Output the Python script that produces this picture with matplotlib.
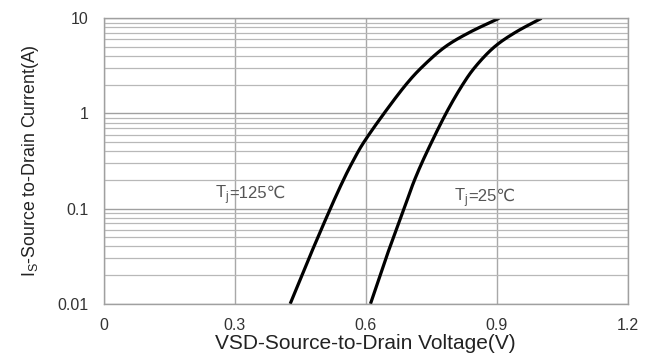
import numpy as np
import matplotlib
matplotlib.use("Agg")
import matplotlib.pyplot as plt
from matplotlib.ticker import LogLocator, FixedLocator, NullFormatter
from matplotlib.offsetbox import TextArea, HPacker, AnnotationBbox

plt.rcParams['font.family'] = ['Liberation Sans', 'DejaVu Sans']
plt.rcParams['mathtext.fontset'] = 'custom'
plt.rcParams['mathtext.rm'] = 'Liberation Sans'

# Data
i_125C = [0.01, 0.0316, 0.1, 0.2, 0.316, 0.5, 1.0, 2.0, 3.16, 5.0, 7.1, 10.0]
vsd_125C = [0.427, 0.472, 0.519, 0.549, 0.571, 0.596, 0.642, 0.692, 0.732, 0.782, 0.838, 0.906]
i_25C = [0.01, 0.0316, 0.1, 0.2, 0.4, 1.0, 2.0, 3.16, 5.0, 7.1, 10.0]
vsd_25C = [0.611, 0.648, 0.688, 0.712, 0.741, 0.784, 0.822, 0.853, 0.895, 0.943, 1.003]

x_ticks = [0, 0.3, 0.6, 0.9, 1.2]
x_tick_labels = ['0', '0.3', '0.6', '0.9', '1.2']
y_ticks = [0.01, 0.1, 1, 10]
y_tick_labels = ['0.01', '0.1', '1', '10']
labels = [('125', 0.335, 0.14), ('25', 0.872, 0.13)]


def catmull(v, i, n=20):
    """Smooth drawing path through the read points (Catmull-Rom in log-I space)."""
    p = np.column_stack([np.asarray(v, float), np.log10(np.asarray(i, float))])
    p = np.vstack([2 * p[0] - p[1], p, 2 * p[-1] - p[-2]])
    out = []
    t = np.linspace(0, 1, n, endpoint=False)[:, None]
    for k in range(1, len(p) - 2):
        p0, p1, p2, p3 = p[k - 1], p[k], p[k + 1], p[k + 2]
        seg = 0.5 * ((2 * p1) + (-p0 + p2) * t + (2 * p0 - 5 * p1 + 4 * p2 - p3) * t ** 2
                     + (-p0 + 3 * p1 - 3 * p2 + p3) * t ** 3)
        out.append(seg)
    out.append(p[-2][None, :])
    out = np.vstack(out)
    return out[:, 0], 10 ** out[:, 1]


fig = plt.figure(figsize=(6.53, 3.57), dpi=100)
ax = fig.add_axes([0.159, 0.149, 0.802, 0.800])
ax.set_yscale('log')
ax.set_xlim(0, 1.2)
ax.set_ylim(0.01, 10)

ax.grid(True, which='major', axis='y', color='#a0a0a0', lw=1.0)
ax.grid(True, which='minor', axis='y', color='#b8b8b8', lw=0.9)
ax.grid(True, which='major', axis='x', color='#a8a8a8', lw=1.0)
ax.set_axisbelow(True)

for v, i in ((vsd_125C, i_125C), (vsd_25C, i_25C)):
    xs, ys = catmull(v, i)
    ax.plot(xs, ys, color='black', lw=2.3, solid_capstyle='butt')

ax.xaxis.set_major_locator(FixedLocator(x_ticks))
ax.set_xticklabels(x_tick_labels)
ax.yaxis.set_major_locator(FixedLocator(y_ticks))
ax.set_yticklabels(y_tick_labels)
ax.yaxis.set_minor_locator(LogLocator(base=10, subs=np.arange(2, 10)))
ax.yaxis.set_minor_formatter(NullFormatter())
ax.tick_params(which='both', length=0, labelsize=11.5, colors='#333333')
ax.tick_params(axis='x', pad=10)
ax.tick_params(axis='y', pad=11)

for s in ax.spines.values():
    s.set_color('#a0a0a0')
    s.set_linewidth(1.0)

ax.set_xlabel('VSD-Source-to-Drain Voltage(V)', fontsize=15, color='#222222', labelpad=1)
ax.set_ylabel(r'I$_\mathregular{S}$-Source to-Drain Current(A)', fontsize=12.8,
              color='#222222', labelpad=12)

for temp, xv, yv in labels:
    tp = dict(fontsize=12, color='#555555')
    a = TextArea(r'T$_\mathregular{j}$', textprops=tp)
    b = TextArea('=' + temp + '℃', textprops=dict(tp, family=['Liberation Sans', 'DejaVu Sans']))
    box = HPacker(children=[a, b], align='baseline', pad=0, sep=0)
    ab = AnnotationBbox(box, (xv, yv), xycoords='data', frameon=False, box_alignment=(0.5, 0.5))
    ax.add_artist(ab)

fig.savefig('out.png', dpi=100)
